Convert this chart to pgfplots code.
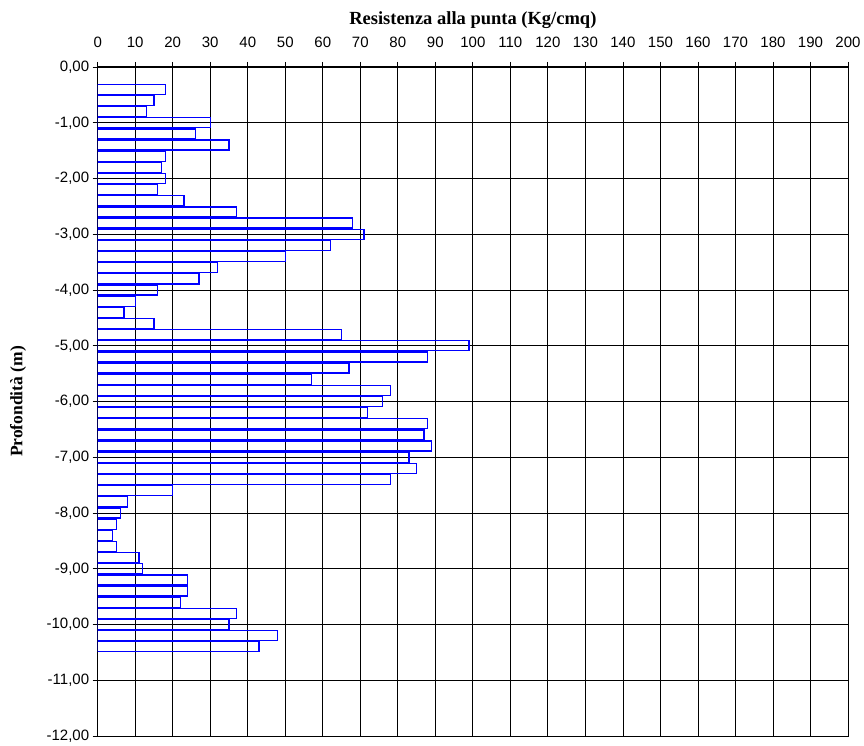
\documentclass[border=0pt]{standalone}
\usepackage{pgfplots}
\pgfplotsset{compat=1.18}
\usepackage{fontspec}
\setmainfont{Liberation Sans}
\newfontfamily\timesf{Liberation Serif}
\begin{document}
\begin{tikzpicture}[x=1pt,y=1pt]
\begin{axis}[
  at={(97.7pt,9pt)}, anchor=south west,
  scale only axis, width=750.3pt, height=669pt,
  xmin=0, xmax=200, ymin=-12, ymax=0,
  xtick={0,10,...,200},
  ytick={-12,-11,...,0},
  yticklabels={{-12,00},{-11,00},{-10,00},{-9,00},{-8,00},{-7,00},{-6,00},{-5,00},{-4,00},{-3,00},{-2,00},{-1,00},{0,00}},
  xticklabel pos=top,
  xtick pos=top,
  ytick pos=left,
  tick align=outside,
  major tick length=5pt,
  tick style={black, line width=0.8pt},
  axis line style={black, line width=1pt},
  grid=major,
  major grid style={black, line width=0.8pt},
  tick label style={font=\fontsize{15}{17}\selectfont},
  /pgf/number format/assume math mode=true,
  xticklabel style={anchor=base, yshift=14pt},
  xlabel={\timesf\bfseries\fontsize{18.5}{21}\selectfont Resistenza alla punta (Kg/cmq)},
  ylabel={\timesf\bfseries\fontsize{17.5}{20}\selectfont Profondità (m)},
  every axis x label/.style={at={(axis description cs:0.5,1)}, anchor=base, yshift=42pt},
  every axis y label/.style={at={(axis description cs:-0.1062,0.5)}, rotate=90, anchor=center},
]
\addplot[xbar, bar width=0.18, draw={rgb,255:red,0;green,0;blue,255}, fill=none, line width=1.3pt] coordinates {
(18,-0.4) (15,-0.6) (13,-0.8) (30,-1.0) (26,-1.2) (35,-1.4) (18,-1.6) (17,-1.8)
(18,-2.0) (16,-2.2) (23,-2.4) (37,-2.6) (68,-2.8) (71,-3.0) (62,-3.2) (50,-3.4)
(32,-3.6) (27,-3.8) (16,-4.0) (10,-4.2) (7,-4.4) (15,-4.6) (65,-4.8) (99,-5.0)
(88,-5.2) (67,-5.4) (57,-5.6) (78,-5.8) (76,-6.0) (72,-6.2) (88,-6.4) (87,-6.6)
(89,-6.8) (83,-7.0) (85,-7.2) (78,-7.4) (20,-7.6) (8,-7.8) (6,-8.0) (5,-8.2)
(4,-8.4) (5,-8.6) (11,-8.8) (12,-9.0) (24,-9.2) (24,-9.4) (22,-9.6) (37,-9.8)
(35,-10.0) (48,-10.2) (43,-10.4)
};
\end{axis}
\pgfresetboundingbox
\useasboundingbox (0,0) rectangle (864,745);
\end{tikzpicture}
\end{document}
